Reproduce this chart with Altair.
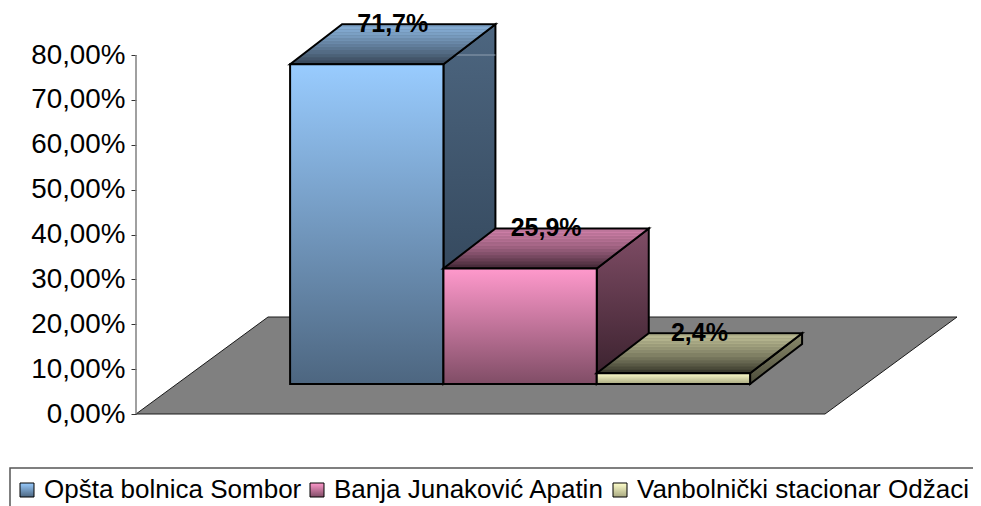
import altair as alt
import pandas as pd

names = ["Opšta bolnica Sombor", "Banja Junaković Apatin", "Vanbolnički stacionar Odžaci"]
values = [71.7, 25.9, 2.4]
labels = ["71,7%", "25,9%", "2,4%"]
ticks = [0, 10, 20, 30, 40, 50, 60, 70, 80]

front_colors = [("#99ccff", "#4d6680"), ("#ff99cc", "#804d66"), ("#ffffcc", "#a8a880")]
top_colors = [("#86aed6", "#3a4a5c"), ("#cf80a8", "#4a2c3c"), ("#bcbc94", "#3c3c2e")]
side_colors = [("#4d6680", "#2b3d50"), ("#804d66", "#38202c"), ("#8a8a6c", "#4c4c3a")]

# projection of the pseudo-3D scene, in bar widths (x) and percentage points (y)
PX_X = 153.33
PX_Y = 4.4875
W, H = 837, 498
BAR_LEFT = 1.005
BAR_BASE = 30 / PX_Y
DX = 52 / PX_X
DY = 40 / PX_Y
FLOOR_W = 689 / PX_X
FLOOR_DX = 132 / PX_X
FLOOR_DY = 97 / PX_Y
HEIGHT_SCALE = 0.994

x_scale = alt.Scale(domain=[0, W / PX_X], nice=False, zero=False)
y_scale = alt.Scale(domain=[-(H - 406) / PX_Y, 406 / PX_Y], nice=False, zero=False)


def hex2rgb(c):
    return [int(c[i:i + 2], 16) for i in (1, 3, 5)]


def mix(a, b, t):
    ra, rb = hex2rgb(a), hex2rgb(b)
    return "#%02x%02x%02x" % tuple(round(p + (q - p) * t) for p, q in zip(ra, rb))


def banded(c_top, c_bot, n=13):
    stops = []
    for k in range(n):
        col = mix(c_top, c_bot, (k / (n - 1)) ** 1.4)
        dark = mix(col, "#000000", 0.08)
        a, m, b = k / n, (k + 0.55) / n, (k + 1) / n
        stops += [alt.GradientStop(offset=a, color=col), alt.GradientStop(offset=m, color=col),
                  alt.GradientStop(offset=m, color=dark), alt.GradientStop(offset=b, color=dark)]
    return alt.Gradient(gradient="linear", x1=0, y1=0, x2=0, y2=1, stops=stops)


def smooth(c_top, c_bot):
    return alt.Gradient(gradient="linear", x1=0, y1=0, x2=0, y2=1,
                        stops=[alt.GradientStop(offset=0, color=c_top), alt.GradientStop(offset=1, color=c_bot)])


def gradient_expr(c_top, c_bot):
    return alt.expr(
        "{gradient:'linear',x1:0,y1:0,x2:0,y2:1,stops:[{offset:0,color:'%s'},{offset:1,color:'%s'}]}" % (c_top, c_bot)
    )


y_axis = alt.Axis(
    values=ticks, domain=False, grid=False, tickColor="#333333", tickSize=5, tickWidth=1,
    labelFontSize=27.8, labelFont="Liberation Sans", labelColor="#000000", labelPadding=6,
    labelExpr="replace(format(datum.value,'.2f'),'.',',') + '%'")

X = alt.X("x:Q", scale=x_scale, axis=None)
Y = alt.Y("y:Q", scale=y_scale, title=None, axis=y_axis)

# floor
floor = pd.DataFrame({
    "x": [0, FLOOR_DX, FLOOR_W, FLOOR_W + FLOOR_DX],
    "y": [0, FLOOR_DY, FLOOR_DY, FLOOR_DY],
    "y2": [0, 0, 0, FLOOR_DY],
})
layers = [
    alt.Chart(floor).mark_area(color="#808080", stroke="#1a1a1a", strokeWidth=1).encode(x=X, y=Y, y2="y2:Q"),
    alt.Chart(pd.DataFrame({"y": [0], "y2": [80], "x": [0]})).mark_rule(color="#808080", strokeWidth=1.5).encode(
        x=X, y=Y, y2="y2:Q"
    ),
]

texts = []
for i, (name, v) in enumerate(zip(names, values)):
    x0, x1 = BAR_LEFT + i, BAR_LEFT + i + 1
    bottom = BAR_BASE
    top = BAR_BASE + v * HEIGHT_SCALE
    # side face
    side = pd.DataFrame({"x": [x1, x1 + DX], "y": [top, top + DY], "y2": [bottom, bottom + DY]})
    layers.append(alt.Chart(side).mark_area(color=smooth(*side_colors[i]), stroke="#000000", strokeWidth=2).encode(
        x=X, y=Y, y2="y2:Q"))
    if i == 0:
        grid = pd.DataFrame({"x": [x1 + (80 - top) / DY * DX], "x2": [x1 + DX], "y": [80]})
        layers.append(alt.Chart(grid).mark_rule(color="#8f9fb0", strokeWidth=1).encode(x=X, x2="x2:Q", y=Y))
    # top face
    topf = pd.DataFrame({
        "x": [x0, x0 + DX, x1, x1 + DX],
        "y": [top, top + DY, top + DY, top + DY],
        "y2": [top, top, top, top + DY],
    })
    layers.append(alt.Chart(topf).mark_area(color=banded(*top_colors[i]), stroke="#000000", strokeWidth=2).encode(
        x=X, y=Y, y2="y2:Q"))
    # front face, carrying the legend
    front = pd.DataFrame({"x": [x0], "x2": [x1], "y": [bottom], "y2": [top], "name": [name]})
    layers.append(alt.Chart(front).mark_rect(stroke="#000000", strokeWidth=2, opacity=1).encode(
        x=X, x2="x2:Q", y=Y, y2="y2:Q",
        fill=alt.Fill("name:N", title=None, sort=None,
                      scale=alt.Scale(domain=names, range=[gradient_expr(*c) for c in front_colors]),
                      legend=alt.Legend(
                          orient="none", legendX=-126, legendY=460, direction="horizontal", columns=3,
                          symbolType="square", symbolSize=196, symbolStrokeColor="#000000", symbolStrokeWidth=1,
                          symbolOffset=-5,
                          labelFontSize=26, labelFont="Liberation Sans", labelColor="#000000", labelLimit=500,
                          labelOffset=4, columnPadding=6, padding=9, strokeColor="#555555",
                      )),
    ))
    texts.append(alt.Chart(pd.DataFrame({"x": [(x0 + x1) / 2 + DX / 2], "y": [top + DY], "t": [labels[i]]})).mark_text(
        font="Liberation Sans", fontWeight="bold", fontSize=25, color="#000000", baseline="middle", align="center"
    ).encode(x=X, y=Y, text="t:N"))

chart = alt.layer(*layers, *texts).properties(
    width=W, height=H, background="#ffffff",
    autosize=alt.AutoSizeParams(type="none"),
    padding={"left": 128, "top": 0, "right": 0, "bottom": 0},
).configure_view(stroke=None).configure_legend(strokeWidth=1.5)

chart.save("out.html", embed_options={"renderer": "svg", "actions": False})
